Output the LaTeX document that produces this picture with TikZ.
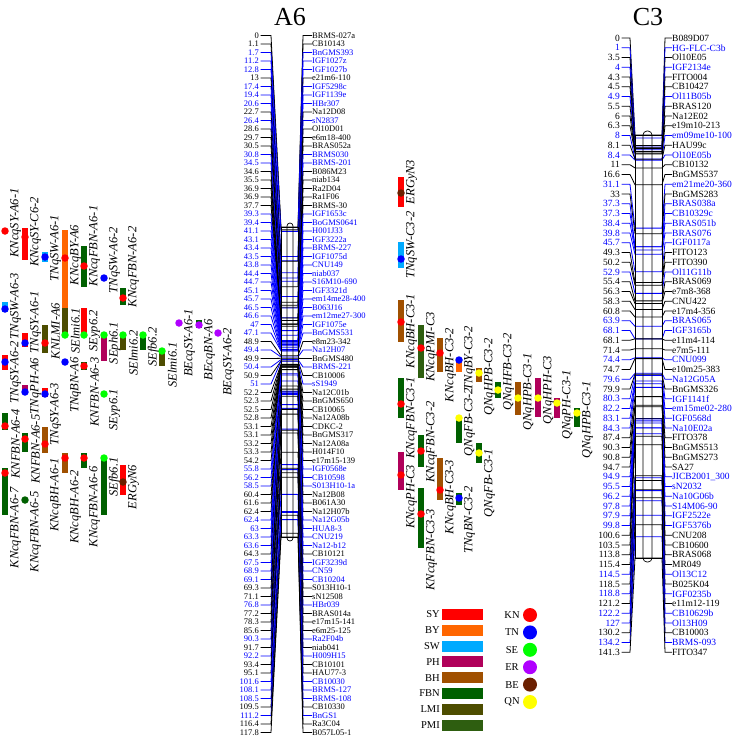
\documentclass[tikz,border=0pt]{standalone}
\usepackage{fontspec}
\setmainfont{Liberation Serif}
\usepackage{tikz}

\colorlet{mk}{black}
\definecolor{mb}{HTML}{0000FF}
\definecolor{cSY}{HTML}{FF0000}
\definecolor{cBY}{HTML}{FF6600}
\definecolor{cSW}{HTML}{00AAFF}
\definecolor{cPH}{HTML}{B0005A}
\definecolor{cBH}{HTML}{A05000}
\definecolor{cFBN}{HTML}{006000}
\definecolor{cLMI}{HTML}{4D4D00}
\definecolor{cPMI}{HTML}{2E5E10}
\definecolor{dRed}{HTML}{FF0000}
\definecolor{dBlue}{HTML}{0000FF}
\definecolor{dGreen}{HTML}{00FF00}
\definecolor{dViolet}{HTML}{B000FF}
\definecolor{dBrown}{HTML}{6B2000}
\definecolor{dYellow}{HTML}{FFFF00}

\begin{document}
\begin{tikzpicture}[x=1pt, y=-1pt,
  mposA/.style={anchor=east, inner sep=0pt, font=\fontsize{8.5}{8.5}\selectfont},
  mnameA/.style={anchor=west, inner sep=0pt, font=\fontsize{8.5}{8.5}\selectfont},
  mposC/.style={anchor=east, inner sep=0pt, font=\fontsize{9.5}{9.5}\selectfont},
  mnameC/.style={anchor=west, inner sep=0pt, font=\fontsize{9.5}{9.5}\selectfont},
  qlab/.style={rotate=90, inner sep=0pt, font=\fontsize{12.5}{12.5}\selectfont\itshape},
  qdot/.style={circle, inner sep=0pt, minimum size=7.5pt},
  leg/.style={inner sep=0pt, font=\fontsize{10.5}{10.5}\selectfont},
  title/.style={inner sep=0pt, font=\fontsize{26}{26}\selectfont}]
  \useasboundingbox (0, 0) rectangle (737, 737);

  \node [title] (tA6) at (290, 17) {A6};
  \node [title] (tC3) at (648, 17) {C3};

  \foreach \p/\m/\c [count=\i from 0] in {0/BRMS-027a/mk, 1.1/CB10143/mk, 1.7/BnGMS393/mb, 11.2/IGF1027z/mb, 12.8/IGF1027b/mb, 13/e21m6-110/mk, 17.4/IGF5298c/mb, 19.4/IGF1139e/mb, 20.6/HBr307/mb, 22.7/Na12D08/mk, 26.4/sN2837/mb, 28.6/Ol10D01/mk, 29.7/e6m18-400/mk, 30.5/BRAS052a/mk, 30.8/BRMS030/mb, 34.5/BRMS-201/mb, 34.6/B086M23/mk, 35.5/niab134/mk, 36.9/Ra2D04/mk, 36.9/Ra1F06/mk, 37.7/BRMS-30/mk, 39.3/IGF1653c/mb, 39.4/BoGMS0641/mb, 41.1/H001J33/mb, 43.1/IGF3222a/mb, 43.4/BRMS-227/mb, 43.5/IGF1075d/mb, 43.8/CNU149/mb, 44.4/niab037/mb, 44.7/S16M10-690/mb, 45.1/IGF3321d/mb, 45.7/em14me28-400/mb, 46.5/B063J16/mb, 46.6/em12me27-300/mb, 47/IGF1075e/mb, 47.1/BnGMS531/mb, 48.9/e8m23-342/mk, 49.4/Na12H07/mb, 49.9/BnGMS480/mk, 50.4/BRMS-221/mb, 50.9/CB10006/mk, 51/sS1949/mb, 52.2/Na12C01b/mk, 52.3/BnGMS650/mk, 52.5/CB10065/mk, 52.8/Na12A08b/mk, 53.1/CDKC-2/mk, 53.1/BnGMS317/mk, 53.2/Na12A08a/mk, 53.3/H014F10/mk, 54.2/e17m15-139/mk, 55.8/IGF0568e/mb, 56.2/CB10598/mb, 58.5/S013H10-1a/mb, 60.4/Na12B08/mk, 61.6/B061A30/mk, 62.4/Na12H07b/mk, 62.4/Na12G05b/mb, 63/HUA8-3/mb, 63.3/CNU219/mb, 63.6/Na12-b12/mb, 64.3/CB10121/mk, 67.5/IGF3239d/mb, 68.9/CN59/mb, 69.1/CB10204/mb, 69.3/S013H10-1/mk, 71.1/sN12508/mk, 76.8/HBr039/mb, 77.2/BRAS014a/mk, 78.3/e17m15-141/mk, 85.6/e6m25-125/mk, 90.3/Ra2F04b/mb, 91.7/niab041/mk, 92.2/H009H15/mb, 93.4/CB10101/mk, 95.1/HAU77-3/mk, 101.6/CB10030/mb, 108.1/BRMS-127/mb, 108.5/BRMS-108/mb, 109.5/CB10330/mk, 111.2/BnGS1/mb, 116.4/Ra3C04/mk, 117.8/B057L05-1/mk}{
    \pgfmathsetmacro\yl{35.5+\i*8.5}
    \pgfmathsetmacro\yc{227+\p*2.6316}
    \node [mposA, text=\c] (pA\i) at (259, \yl) {\p};
    \node [mnameA, text=\c] (nA\i) at (312, \yl) {\m};
    \draw [\c, line width=.8pt] (pA\i.east) ++(1.5, 0) -- (271, \yl) -- (281, \yc) -- (298, \yc) -- (303, \yl) -- (nA\i.west);
  }
  \draw [line width=.7pt] (281, 227) rectangle (298, 537);
  \draw [line width=.7pt, rounded corners=3pt] (287, 223) rectangle (293, 541);

  \foreach \p/\m/\c [count=\i from 0] in {0/B089D07/mk, 1/HG-FLC-C3b/mb, 3.5/Ol10E05/mk, 4/IGF2134e/mb, 4.3/FITO004/mk, 4.5/CB10427/mk, 4.9/Ol11B05b/mb, 5.5/BRAS120/mk, 6/Na12E02/mk, 6.3/e19m10-213/mk, 8/em09me10-100/mb, 8.1/HAU99c/mk, 8.4/Ol10E05b/mb, 11/CB10132/mk, 16.6/BnGMS537/mk, 31.1/em21me20-360/mb, 33/BnGMS283/mk, 37.3/BRAS038a/mb, 37.3/CB10329c/mb, 38.4/BRAS051b/mb, 39.8/BRAS076/mb, 45.7/IGF0117a/mb, 49.3/FITO123/mk, 50.2/FITO390/mk, 52.9/Ol11G11b/mb, 55.4/BRAS069/mk, 56.3/e7m8-368/mk, 58.3/CNU422/mk, 60.8/e17m4-356/mk, 63.9/BRAS065/mb, 68.1/IGF3165b/mb, 68.1/e11m4-114/mk, 71.4/e7m5-111/mk, 74.4/CNU099/mb, 74.7/e10m25-383/mk, 79.6/Na12G05A/mb, 79.9/BnGMS326/mk, 80.3/IGF1141f/mb, 82.2/em15me02-280/mb, 83.1/IGF0568d/mb, 84.3/Na10E02a/mb, 87.4/FITO378/mk, 90.3/BnGMS513/mk, 90.8/BnGMS273/mk, 94.7/SA27/mk, 94.9/JICB2001\_300/mb, 95.5/sN2032/mb, 96.2/Na10G06b/mb, 97.8/S14M06-90/mb, 97.9/IGF2522e/mb, 99.8/IGF5376b/mb, 100.6/CNU208/mk, 103.5/CB10600/mk, 113.8/BRAS068/mk, 115.4/MR049/mk, 114.5/Ol13C12/mb, 118.5/B025K04/mk, 118.8/IGF0235b/mb, 121.2/e11m12-119/mk, 122.2/CB10629b/mb, 127/Ol13H09/mb, 130.2/CB10003/mk, 134.2/BRMS-093/mb, 141.3/FITO347/mk}{
    \pgfmathsetmacro\yl{38+\i*9.75}
    \pgfmathsetmacro\yc{135+\p*2.9936}
    \node [mposC, text=\c] (pC\i) at (620, \yl) {\p};
    \node [mnameC, text=\c] (nC\i) at (672, \yl) {\m};
    \draw [\c, line width=.8pt] (pC\i.east) ++(1.5, 0) -- (630, \yl) -- (635, \yc) -- (662, \yc) -- (665, \yl) -- (nC\i.west);
  }
  \draw [line width=.7pt] (635, 135) rectangle (662, 558);
  \draw [line width=.7pt, rounded corners=4pt] (643, 131) rectangle (652, 562);

  \foreach \x/\ya/\yb/\bc/\yd/\dc/\lab/\ly [count=\i] in {
    5/231/231/cSY/231/dRed/KNcqSY-A6-1/223,
    5/302/312/cSW/309/dBlue/TNqSW-A6-3/306,
    5/355/370/cSY/362/dBlue/TNqSY-A6-2/372,
    5/413/430/cFBN/426/dRed/KNFBN-A6-4/444,
    5/468/515/cFBN/473/dRed/KNcqFBN-A6-7/528,
    25/228/260/cSY/237/dRed/KNcqSY-C6-2/232,
    25/333/347/cSY/343/dBlue/TNqSY-A6-1/322,
    25/385/392/cPH/392/dBlue/TNqPH-A6/386,
    25/433/452/cFBN/439/dRed/KNFBN-A6-5/449,
    25/500/500/cFBN/500/cFBN/KNcqFBN-A6-5/532,
    45/252/262/cSW/257/dBlue/TNqSW-A6-1/248,
    45/325/353/cLMI/343/dRed/KNLMI-A6/331,
    45/388/397/cSY/394/dBlue/TNqSY-A6-3/414,
    45/427/453/cBH/444/dRed/KNcqBH-A6-1/495,
    65/230/310/cBY/258/dRed/KNcqBY-A6/255,
    65/308/335/cLMI/335/dGreen/SElmi6.1/331,
    65/362/362/cBY/362/dBlue/TNqBN-A6/385,
    65/453/473/cBH/458/dRed/KNcqBH-A6-2/507,
    84/246/287/cFBN/266/dRed/KNcqFBN-A6-1/246,
    84/308/335/cSY/335/dGreen/SEyp6.2/331,
    84/362/370/cFBN/366/dRed/KNFBN-A6-3/392,
    84/453/468/cFBN/458/dRed/KNcqFBN-A6-6/507,
    104/278/278/cSW/278/dBlue/TNqSW-A6-2/260,
    104/335/361/cPH/335/dGreen/SEph6.1/343,
    104/394/394/cSY/394/dGreen/SEyp6.1/410,
    104/458/515/cFBN/458/dGreen/SEfb6.1/477,
    123/288/305/cFBN/298/dRed/KNcqFBN-A6-2/267,
    123/335/350/cLMI/335/dGreen/SElmi6.2/353,
    123/465/495/cSY/482/dBrown/ERGyN6/487,
    143/335/350/cFBN/335/dGreen/SEfb6.2/347,
    162/351/366/cLMI/351/dGreen/SElmi6.1/365,
    179/323/323/cSY/323/dViolet/BEcqSY-A6-1/343,
    199/320/328/cFBN/325/dViolet/BEcqBN-A6/350,
    218/333/333/cSY/333/dViolet/BEcqSY-A6-2/362,
    401/177/207/cSY/193/dBrown/ERGyN3/182,
    401/242/268/cSW/259/dBlue/TNqSW-C3-2/245,
    401/300/342/cBH/322/dRed/KNcqBH-C3-1/331,
    401/378/418/cFBN/404/dRed/KNcqFBN-C3-1/418,
    401/452/490/cPH/475/dRed/KNcqPH-C3/497,
    421/325/378/cPMI/348/dRed/KNcqPMI-C3/347,
    421/435/467/cFBN/451/dRed/KNcqFBN-C3-2/442,
    421/488/548/cFBN/514/dRed/KNcqFBN-C3-3/550,
    440/338/372/cBH/353/dRed/KNcqBH-C3-2/365,
    440/458/500/cBH/490/dRed/KNcqBH-C3-3/497,
    459/360/372/cBY/360/dBlue/TNqBY-C3-2/358,
    459/418/443/cFBN/418/dYellow/QNqFB-C3-2/422,
    459/493/505/cFBN/498/dBlue/TNqBN-C3-2/520,
    479/368/382/cBH/373/dYellow/QNqHPB-C3-2/377,
    479/443/463/cFBN/453/dYellow/QNqFB-C3-1/483,
    498/382/398/cFBN/390/dYellow/QNqHFB-C3-2/372,
    518/382/415/cBH/398/dYellow/QNqHPB-C3-1/392,
    538/378/417/cPH/398/dYellow/QNqHPH-C3/390,
    557/398/418/cPH/403/dYellow/QNqPH-C3-1/405,
    577/408/427/cFBN/413/dYellow/QNqHPB-C3-1/420}{
    \fill [\bc] (\x-3, \ya) rectangle (\x+3, \yb);
    \node [qdot, fill=\dc] (qd\i) at (\x, \yd) {};
    \node [qlab] (ql\i) at (\x+10.5, \ly) {\lab};
  }

  \foreach \t/\c [count=\i from 0] in {SY/cSY, BY/cBY, SW/cSW, PH/cPH, BH/cBH, FBN/cFBN, LMI/cLMI, PMI/cPMI}{
    \fill [\c] (442, {609+\i*15.8}) rectangle (483, {620+\i*15.8});
    \node [leg, anchor=east] (lb\i) at (440, {614.5+\i*15.8}) {\t};
  }
  \foreach \t/\c [count=\i from 0] in {KN/dRed, TN/dBlue, SE/dGreen, ER/dViolet, BE/dBrown, QN/dYellow}{
    \node [qdot, minimum size=14pt, fill=\c] (ld\i) at (530, {615+\i*17.4}) {};
    \node [leg] (lt\i) at (512, {615+\i*17.4}) {\t};
  }
\end{tikzpicture}
\end{document}
